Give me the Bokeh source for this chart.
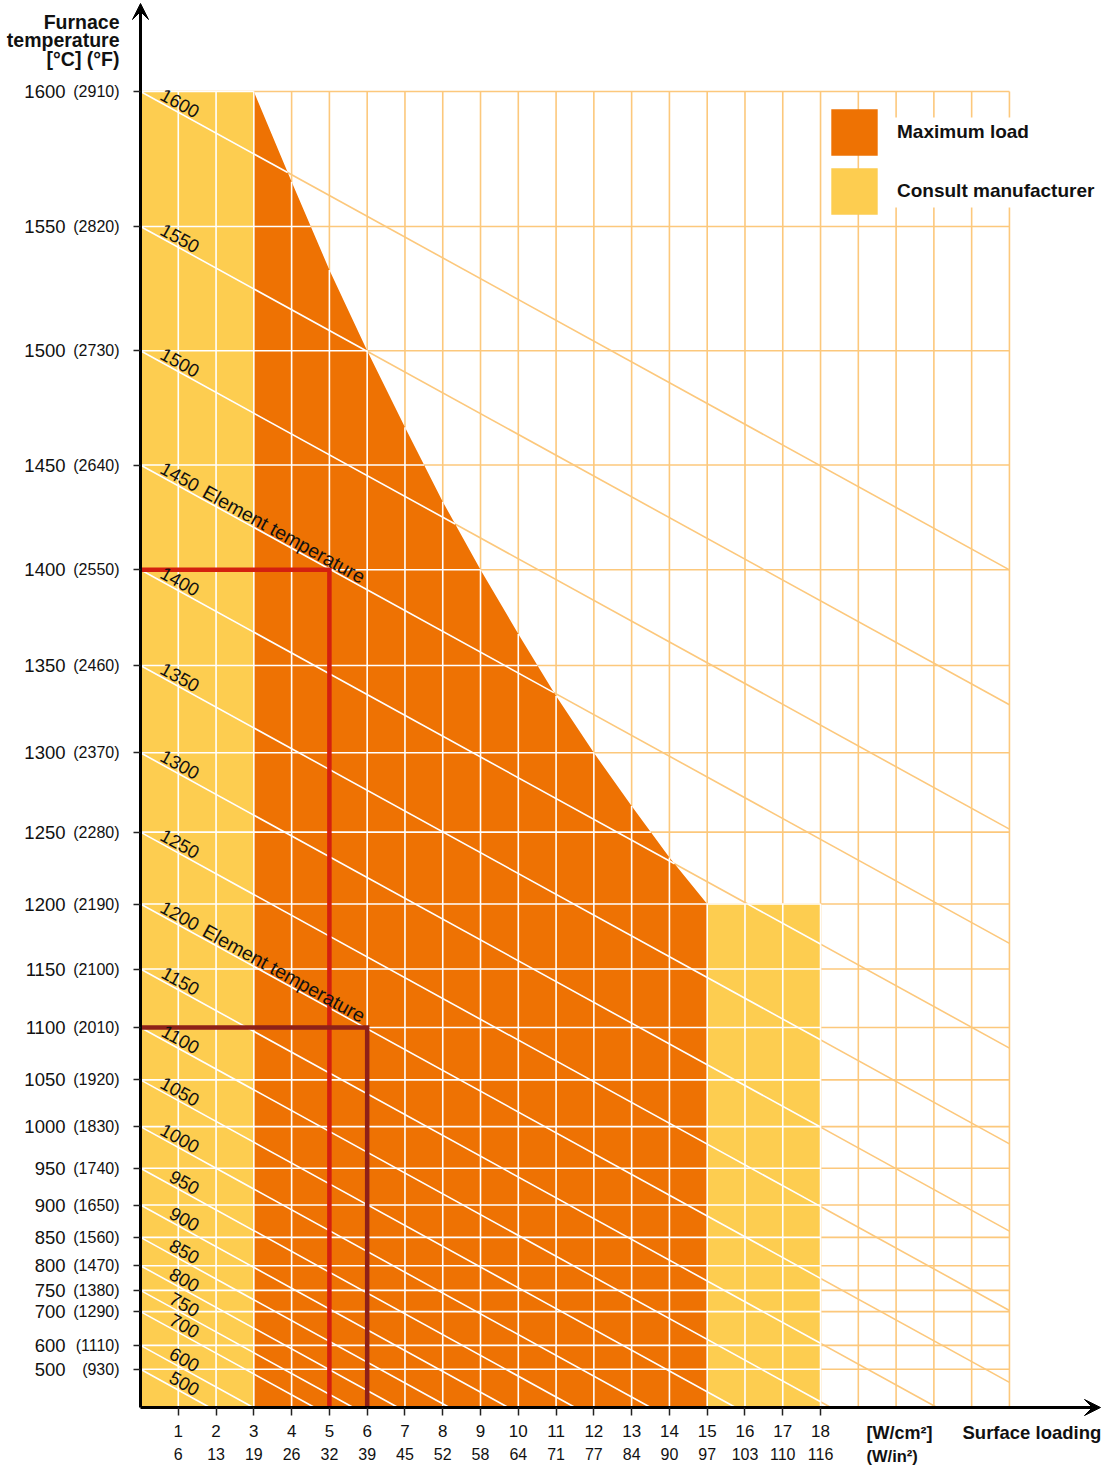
import numpy as np
from bokeh.plotting import figure
from bokeh.models import (Range1d, LinearAxis, FixedTicker, Label, Arrow, VeeHead,
                          Legend, LegendItem, ColumnDataSource)
from bokeh.core.properties import value
from bokeh.embed import file_html
from bokeh.resources import INLINE

# ---------------- data ----------------
furnace_c = [1600, 1550, 1500, 1450, 1400, 1350, 1300, 1250, 1200, 1150, 1100,
             1050, 1000, 950, 900, 850, 800, 750, 700, 600, 500]
furnace_f = [2910, 2820, 2730, 2640, 2550, 2460, 2370, 2280, 2190, 2100, 2010,
             1920, 1830, 1740, 1650, 1560, 1470, 1380, 1290, 1110, 930]
element_c = [1600, 1550, 1500, 1450, 1400, 1350, 1300, 1250, 1200, 1150, 1100,
             1050, 1000, 950, 900, 850, 800, 750, 700, 600, 500]
element_named = [1450, 1200]
load_wcm2 = list(range(1, 19))
load_win2 = [6, 13, 19, 26, 32, 39, 45, 52, 58, 64, 71, 77, 84, 90, 97, 103, 110, 116]
grid_load_max = 23
max_load_x = [3, 4, 5, 6, 7, 8, 9, 10, 11, 12, 13, 14, 15]
max_load_c = [1600, 1567, 1533, 1500, 1467, 1433, 1400, 1367, 1333, 1300, 1267, 1233, 1200]
consult_low_x = [0, 3]
consult_low_top_c = 1600
consult_high_x = [15, 18]
consult_high_top_c = 1200
example_load = [5, 6]
example_furnace_c = [1400, 1100]
example_colors = ["#D3200F", "#8E2118"]
loading_per_k4 = 5.14   # W/cm2 per 1e12 K^4 (slope of element-temperature lines)

# ---------------- scale (radiation: T^4) ----------------
def U(t):
    return ((np.asarray(t, dtype=float) + 273.15) / 1000.0) ** 4

FONT = "Liberation Sans"
ORANGE = "#EE7203"
YELLOW = "#FDCD50"
GRIDC = "#FCC87C"
INK = "#111111"

W, H = 1112, 1468
AX_X, AX_Y = 140.0, 1407.0          # pixel position of the axes origin
PX_PER_X = 37.78
PX_PER_U = 1316.0 / float(U(1600))

def img_x(px):
    return (px - AX_X) / PX_PER_X

def img_u(py):
    return (AX_Y - py) / PX_PER_U

p = figure(width=W, height=H, output_backend="svg", toolbar_location=None,
           x_range=Range1d(img_x(0), img_x(W)), y_range=Range1d(img_u(H), img_u(0)),
           x_axis_type=None, y_axis_type=None,
           min_border_left=0, min_border_right=0, min_border_top=0, min_border_bottom=0)
p.outline_line_color = None
p.background_fill_color = "white"
p.border_fill_color = "white"

# ---------------- region top ----------------
bx = np.array(max_load_x, float)
bu = U(max_load_c)

def top(x):
    x = np.asarray(x, float)
    return np.where(x <= consult_low_x[1] + 1e-9, U(consult_low_top_c),
           np.where(x <= max_load_x[-1] + 1e-9, np.interp(x, bx, bu),
           np.where(x <= consult_high_x[1] + 1e-9, U(consult_high_top_c), -1.0)))

u_max = float(U(furnace_c[0]))

# ---------------- orange grid (full) ----------------
gx_v, gy_v = [], []
for k in range(1, grid_load_max + 1):
    gx_v.append([k, k]); gy_v.append([0, u_max])
for t in furnace_c:
    gx_v.append([0, grid_load_max]); gy_v.append([float(U(t))] * 2)
diag = []
for te in element_c:
    u0 = float(U(te))
    xe = min(grid_load_max, u0 * loading_per_k4)
    diag.append((u0, xe))
    gx_v.append([0, xe]); gy_v.append([u0, u0 - xe / loading_per_k4])
p.multi_line(gx_v, gy_v, line_color=GRIDC, line_width=1.6)

# ---------------- fills ----------------
orange_r = p.patch([max_load_x[0]] + max_load_x + [max_load_x[-1]],
                   [0.0] + list(bu) + [0.0], fill_color=ORANGE, line_color=None)
yellow_r = p.patches([[consult_low_x[0], consult_low_x[1], consult_low_x[1], consult_low_x[0]],
                      [consult_high_x[0], consult_high_x[1], consult_high_x[1], consult_high_x[0]]],
                     [[0, 0, u_max, u_max],
                      [0, 0, float(U(consult_high_top_c)), float(U(consult_high_top_c))]],
                     fill_color=YELLOW, line_color=None)

# ---------------- white lines inside filled areas ----------------
wx, wy = [], []
for k in range(1, grid_load_max + 1):
    if k <= consult_high_x[1]:
        wx.append([k, k]); wy.append([0, float(top(k))])
for t in furnace_c:
    ut = float(U(t))
    if ut > U(consult_high_top_c) + 1e-9:
        xb = float(np.interp(ut, bu[::-1], bx[::-1]))
    else:
        xb = consult_high_x[1]
    wx.append([0, xb]); wy.append([ut, ut])
for u0, xe in diag:
    xs = np.linspace(0, xe, 6000)
    ys = u0 - xs / loading_per_k4
    inside = ys <= top(xs) + 1e-9
    i, n = 0, len(xs)
    while i < n:
        if inside[i]:
            j = i
            while j + 1 < n and inside[j + 1]:
                j += 1
            if j > i:
                wx.append([xs[i], xs[j]]); wy.append([ys[i], ys[j]])
            i = j + 1
        else:
            i += 1
p.multi_line(wx, wy, line_color="white", line_width=1.6)

# white box behind legend text
p.quad(left=img_x(890), right=img_x(W), bottom=img_u(207), top=img_u(117),
       fill_color="white", line_color=None)

# ---------------- example lines ----------------
for L, T, c in zip(example_load, example_furnace_c, example_colors):
    ut = float(U(T))
    p.line([0, L, L], [ut, ut, 0], line_color=c, line_width=4.5, line_join="miter")

# ---------------- element temperature labels ----------------
ang = -np.arctan((1.0 / loading_per_k4) * PX_PER_U / PX_PER_X)
lab_x = 1.52
src = ColumnDataSource(dict(x=[lab_x] * len(element_c),
                            y=[float(U(t)) - lab_x / loading_per_k4 for t in element_c],
                            t=[str(t) for t in element_c]))
p.text("x", "y", text="t", source=src, angle=ang, text_align="right",
       text_baseline="alphabetic", y_offset=-10, text_font=value(FONT),
       text_font_size="18.5px", text_color=INK)
sx = lab_x + 0.17
src2 = ColumnDataSource(dict(x=[sx] * len(element_named),
                             y=[float(U(t)) - sx / loading_per_k4 for t in element_named],
                             t=["Element temperature"] * len(element_named)))
p.text("x", "y", text="t", source=src2, angle=ang, text_align="left",
       text_baseline="alphabetic", y_offset=-10, text_font=value(FONT),
       text_font_size="19.5px", text_color=INK)

# ---------------- axes (fixed at the origin) ----------------
yticks = [float(np.round(U(t), 10)) for t in furnace_c]
yF = LinearAxis(ticker=FixedTicker(ticks=yticks, minor_ticks=[]), fixed_location=0,
                bounds=(0, img_u(12)),
                major_label_overrides={k: f"({f})" for k, f in zip(yticks, furnace_f)},
                axis_line_width=3, axis_line_color="black",
                major_tick_in=0, major_tick_out=7, major_tick_line_width=1.5,
                major_tick_line_color="#222222", major_label_standoff=14,
                major_label_text_font=FONT, major_label_text_font_size="16px",
                major_label_text_color=INK)
yC = LinearAxis(ticker=FixedTicker(ticks=yticks, minor_ticks=[]), fixed_location=0,
                major_label_overrides={k: str(c) for k, c in zip(yticks, furnace_c)},
                axis_line_color=None, major_tick_line_color=None,
                major_tick_in=0, major_tick_out=0, major_label_standoff=75,
                major_label_text_font=FONT, major_label_text_font_size="18.5px",
                major_label_text_color=INK)
p.add_layout(yF, "left")
p.add_layout(yC, "left")

xW = LinearAxis(ticker=FixedTicker(ticks=load_wcm2, minor_ticks=[]), fixed_location=0,
                bounds=(0, img_x(1090)),
                axis_line_width=3, axis_line_color="black",
                major_tick_in=0, major_tick_out=8, major_tick_line_width=1.5,
                major_tick_line_color="#222222", major_label_standoff=9,
                major_label_text_font=FONT, major_label_text_font_size="17px",
                major_label_text_color=INK)
xI = LinearAxis(ticker=FixedTicker(ticks=load_wcm2, minor_ticks=[]), fixed_location=0,
                major_label_overrides={k: str(v) for k, v in zip(load_wcm2, load_win2)},
                axis_line_color=None, major_tick_line_color=None,
                major_tick_in=0, major_tick_out=0, major_label_standoff=40,
                major_label_text_font=FONT, major_label_text_font_size="16px",
                major_label_text_color=INK)
p.add_layout(xW, "below")
p.add_layout(xI, "below")

# arrow heads
p.add_layout(Arrow(end=VeeHead(size=16, fill_color="black", line_color="black", line_width=1),
                   x_start=0, y_start=img_u(40), x_end=0, y_end=img_u(3),
                   line_color="black", line_width=3))
p.add_layout(Arrow(end=VeeHead(size=16, fill_color="black", line_color="black", line_width=1),
                   x_start=img_x(1050), y_start=0, x_end=img_x(1100), y_end=0,
                   line_color="black", line_width=3))

# ---------------- legend ----------------
legend = Legend(items=[LegendItem(label="Maximum load", renderers=[orange_r]),
                       LegendItem(label="Consult manufacturer", renderers=[yellow_r])],
                location=(825, H - 220), glyph_width=58, glyph_height=58, spacing=1,
                padding=0, margin=0, label_standoff=14,
                label_text_font=FONT, label_text_font_style="bold",
                label_text_font_size="19px", label_text_color=INK,
                background_fill_alpha=0, border_line_color=None)
p.add_layout(legend)

# ---------------- text labels ----------------
for txt, yy in [("Furnace", 21), ("temperature", 39), ("[°C] (°F)", 58)]:
    p.add_layout(Label(x=img_x(119), y=img_u(yy), text=txt, text_align="right",
                       text_baseline="middle", text_font=FONT, text_font_style="bold",
                       text_font_size="19.5px", text_color=INK))
p.add_layout(Label(x=img_x(866), y=img_u(1432), text="[W/cm²]", text_align="left",
                   text_baseline="middle", text_font=FONT, text_font_style="bold",
                   text_font_size="18px", text_color=INK))
p.add_layout(Label(x=img_x(866), y=img_u(1455), text="(W/in²)", text_align="left",
                   text_baseline="middle", text_font=FONT, text_font_style="bold",
                   text_font_size="16.5px", text_color=INK))
p.add_layout(Label(x=img_x(962), y=img_u(1432), text="Surface loading", text_align="left",
                   text_baseline="middle", text_font=FONT, text_font_style="bold",
                   text_font_size="18.5px", text_color=INK))

open("out.html", "w").write(file_html(p, INLINE))
